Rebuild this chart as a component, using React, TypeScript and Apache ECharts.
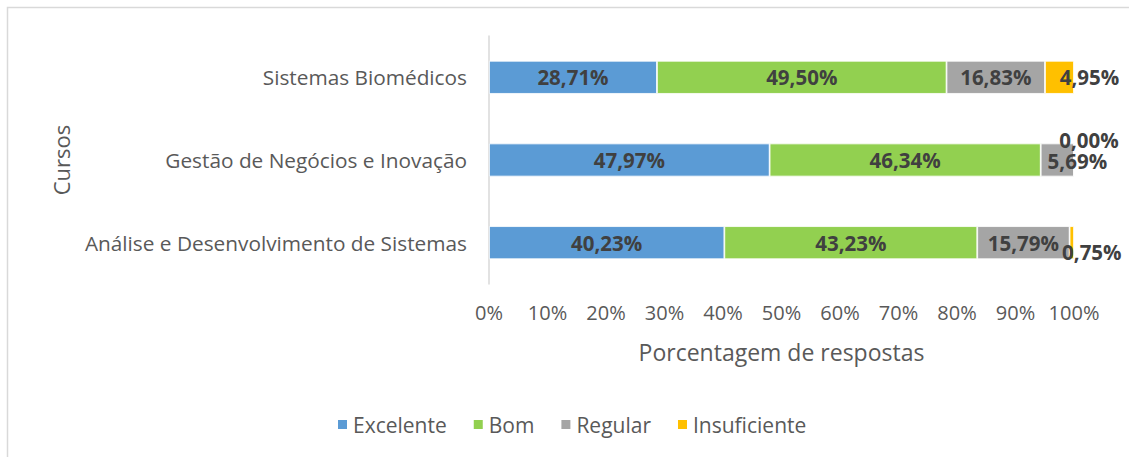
import React, { useEffect, useRef } from "react";
import * as echarts from "echarts";

const categories = [
  "Análise e Desenvolvimento de Sistemas",
  "Gestão de Negócios e Inovação",
  "Sistemas Biomédicos",
];
const seriesNames = ["Excelente", "Bom", "Regular", "Insuficiente"];
const excelente = [40.23, 47.97, 28.71];
const bom = [43.23, 46.34, 49.5];
const regular = [15.79, 5.69, 16.83];
const insuficiente = [0.75, 0.0, 4.95];
const xTicks = [0, 10, 20, 30, 40, 50, 60, 70, 80, 90, 100];

const colors = ["#5B9BD5", "#92D050", "#A5A5A5", "#FFC000"];
const FONT = "Open Sans";

// label offsets for small segments (series index - category index)
const labelOffsets: Record<string, [number, number]> = {
  "2-1": [20, 1],
  "3-0": [20, 9],
  "3-1": [15, -20],
  "3-2": [30, 0],
};

const fmt = (v: number) => v.toFixed(2).replace(".", ",") + "%";

export default function App() {
  const ref = useRef<HTMLDivElement>(null);
  useEffect(() => {
    if (!ref.current) return;
    const chart = echarts.init(ref.current, undefined, { renderer: "svg" });
    const all = [excelente, bom, regular, insuficiente];
    const series = all.map((vals, si) => ({
      name: seriesNames[si],
      type: "bar",
      stack: "total",
      barWidth: "40%",
      itemStyle: { color: colors[si], borderColor: "#ffffff", borderWidth: 0.8 },
      data: vals.map((v, ci) => {
        const off = labelOffsets[`${si}-${ci}`];
        return {
          value: v,
          label: off ? { offset: off } : undefined,
        };
      }),
      label: {
        show: true,
        position: "inside",
        formatter: (p: any) => fmt(p.value),
        color: "#404040",
        fontFamily: FONT,
        fontWeight: "bold",
        fontSize: 20.5,
      },
    }));
    chart.setOption({
      animation: false,
      textStyle: { fontFamily: FONT },
      graphic: [
        {
          type: "rect",
          shape: { x: 7.5, y: 7.5, width: 1300, height: 600 },
          style: { fill: "none", stroke: "#d9d9d9", lineWidth: 1.5 },
          silent: true,
        },
      ],
      legend: {
        left: 331,
        top: 409,
        itemWidth: 11,
        itemHeight: 11,
        itemGap: 25,
        icon: "rect",
        textStyle: { color: "#595959", fontSize: 21, fontFamily: FONT },
        data: seriesNames,
      },
      grid: { left: 489, right: 55, top: 36, bottom: 173 },
      xAxis: {
        type: "value",
        min: 0,
        max: 100,
        interval: 10,
        splitLine: { show: false },
        axisLine: { show: false },
        axisTick: { show: false },
        axisLabel: {
          formatter: (v: number) => (xTicks.includes(v) ? `${v}%` : ""),
          color: "#595959",
          fontSize: 20,
          margin: 18,
          fontFamily: FONT,
        },
        name: "Porcentagem de respostas",
        nameLocation: "middle",
        nameGap: 56,
        nameTextStyle: { color: "#595959", fontSize: 23, fontFamily: FONT },
      },
      yAxis: {
        type: "category",
        data: categories,
        axisLine: { show: true, lineStyle: { color: "#d9d9d9", width: 1.5 } },
        axisTick: { show: false },
        axisLabel: { color: "#595959", fontSize: 20.8, margin: 22, fontFamily: FONT },
        name: "Cursos",
        nameLocation: "middle",
        nameGap: 417,
        nameRotate: 90,
        nameTextStyle: { color: "#595959", fontSize: 22, fontFamily: FONT },
      },
      series,
    });
    return () => chart.dispose();
  }, []);
  return (
    <div
      ref={ref}
      style={{ position: "fixed", left: 0, top: 0, width: 1129, height: 457, background: "#fff" }}
    />
  );
}
